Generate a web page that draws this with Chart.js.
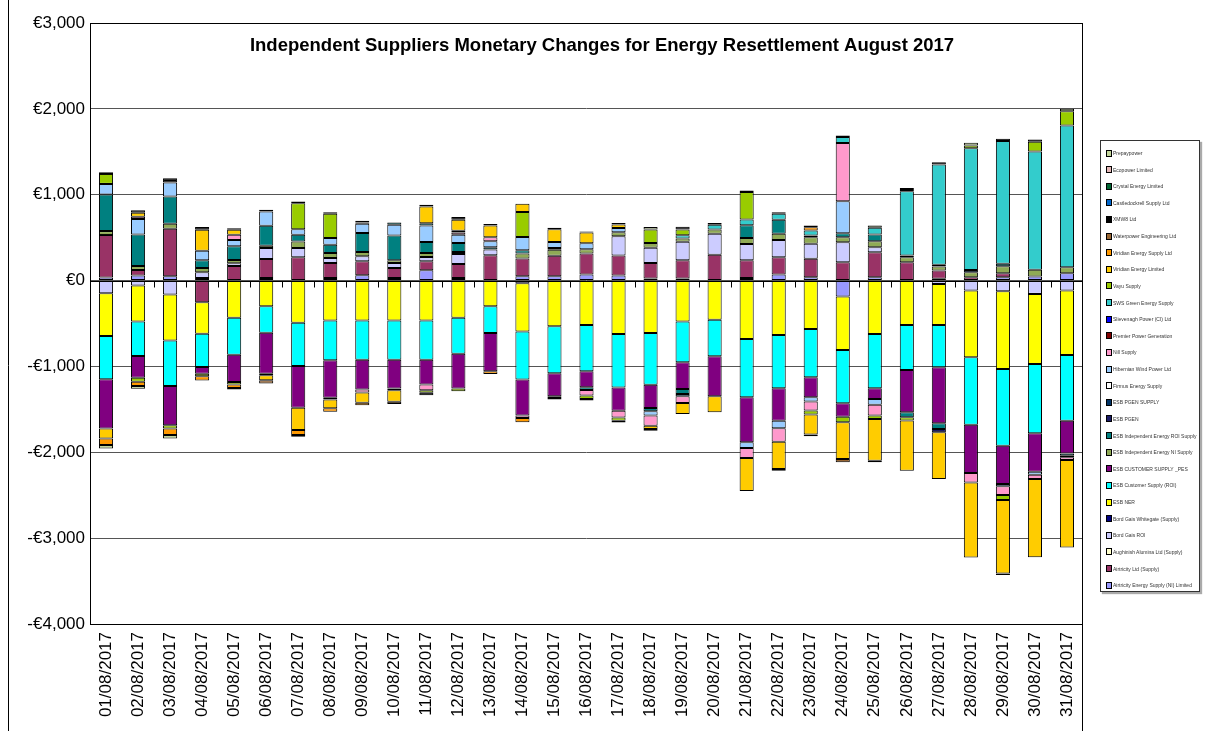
<!DOCTYPE html>
<html>
<head>
<meta charset="utf-8">
<script src="https://cdn.jsdelivr.net/npm/chart.js@4"></script>
<style>
  body { margin: 0; background: #fff; }
  #wrap { position: relative; width: 1205px; height: 731px; }
  #legend {
    position: absolute; left: 1100px; top: 140px; width: 98px; height: 450px;
    border: 1.5px solid #333; box-shadow: 2px 2px 1px #aaa; background: #fff;
    font-family: "Liberation Sans", Arial, sans-serif; font-size: 5px; color: #333;
  }
  .item { position: absolute; left: 5px; height: 8px; display: flex; align-items: center; white-space: nowrap; }
  .sw { width: 4px; height: 5px; border: 1px solid #000; margin-right: 1px; }
</style>
</head>
<body>
<div id="wrap">
  <canvas id="chart" width="1205" height="731"></canvas>
  <div id="legend"></div>
</div>
<script>
// Categories
const days = ["01/08/2017", "02/08/2017", "03/08/2017", "04/08/2017", "05/08/2017", "06/08/2017",
  "07/08/2017", "08/08/2017", "09/08/2017", "10/08/2017", "11/08/2017", "12/08/2017", "13/08/2017",
  "14/08/2017", "15/08/2017", "16/08/2017", "17/08/2017", "18/08/2017", "19/08/2017", "20/08/2017",
  "21/08/2017", "22/08/2017", "23/08/2017", "24/08/2017", "25/08/2017", "26/08/2017", "27/08/2017",
  "28/08/2017", "29/08/2017", "30/08/2017", "31/08/2017"];
const yTicks = [3000, 2000, 1000, 0, -1000, -2000, -3000, -4000];
const title = "Independent Suppliers Monetary Changes for Energy Resettlement August 2017";

// Series values (EUR), one per day
const airtricityNI = [35, 58, 50, 31, 0, 31, 0, 31, 62, 31, 120, 31, 0, 50, 50, 70, 58, 23, 23, 0, 31, 70, 39, -186, 39, 0, 20, 0, 39, 47, 85];
const airtricityLtd = [495, 66, 553, -252, 170, 221, 271, 174, 163, 116, 104, 163, 295, 206, 240, 245, 233, 183, 214, 300, 206, 202, 214, 214, 291, 214, 97, 39, 47, 0, 0];
const aughinish = [0, 0, 0, 0, 0, 0, 0, 0, 0, 0, 0, 0, 0, 0, 0, 0, 0, 0, 0, 0, 0, 0, 0, 0, 0, 0, 0, 0, 0, 0, 0];
const bordGaisROI = [-147, -58, -163, 66, 31, 128, 108, 58, 58, 58, 50, 116, 66, -31, 0, 0, 225, 175, 214, 245, 190, 202, 175, 233, 58, 0, -39, -117, -124, -155, -117];
const bordGaisWhitegate = [0, 0, 0, 0, 0, 0, 0, 0, 0, 0, 0, 0, 0, 0, 0, 0, 0, 0, 0, 0, 0, 0, 0, 0, 0, 0, 0, 0, 0, 0, 0];
const esbNER = [-499, -418, -534, -368, -433, -298, -491, -464, -464, -464, -464, -433, -299, -563, -532, -517, -622, -610, -478, -455, -680, -633, -563, -622, -622, -517, -478, -777, -905, -816, -750];
const esbCustomerROI = [-503, -402, -530, -387, -430, -310, -503, -464, -457, -457, -457, -418, -311, -559, -548, -540, -622, -602, -474, -427, -680, -622, -563, -622, -633, -524, -493, -785, -894, -808, -765];
const esbCustomerPES = [-573, -255, -457, -77, -317, -476, -488, -437, -348, -337, -290, -406, -447, -420, -268, -186, -272, -272, -311, -466, -524, -377, -233, -155, -124, -493, -653, -563, -447, -447, -381];
const esbIndependentNI = [46, 46, 58, 50, 39, 27, 77, 58, 50, 31, 46, 23, 0, 58, 70, 50, 47, 58, 39, 50, 70, 70, 78, 58, 70, 58, 47, 58, 82, 78, 70];
const esbIndependentROI = [426, 368, 317, 89, 159, 232, 77, 97, 221, 290, 128, 104, 27, 39, 19, -31, 0, -39, -58, 0, 148, 163, 19, 47, 78, -58, -66, 0, 27, 0, -27];
const esbPgen = [0, 0, 0, 0, 0, -19, 0, -19, 0, 0, 0, 0, 0, 0, 0, 0, 0, 0, 0, 0, 0, 0, 0, 0, 0, 0, -39, 0, 0, 0, 0];
const esbPgenSupply = [0, 0, 0, 0, 0, 0, 0, 0, 0, 0, 0, 0, 0, 0, 0, 0, 0, 0, 0, 0, 0, 0, 0, 0, 0, 19, 19, 27, 0, 0, 0];
const firmus = [0, 0, 0, 0, 0, 0, 0, 0, 0, 0, 0, 0, 0, 0, 0, 0, 0, 0, 0, 0, 0, 0, 0, 0, 0, 0, 0, 0, 0, 0, 0];
const hibernian = [124, 178, 163, 112, 74, 166, 66, 77, 108, 124, 194, 97, 70, 155, 70, 70, 50, -50, -27, 0, -66, -89, -50, 373, -66, 0, 0, 0, -27, -35, -19];
const nill = [0, 27, 0, 0, 62, 0, 0, 0, -35, 0, -66, 27, 47, -27, -19, -66, -78, -117, -78, 0, -117, -155, -105, 676, -128, 0, 0, -109, -101, -50, -31];
const premier = [0, 0, 0, 0, 0, 0, 0, 0, 0, 0, 0, 0, 0, 0, 0, 0, 0, 0, 0, 0, 0, 0, 0, 0, 0, 0, 0, 0, 0, 0, 0];
const slievenagh = [0, 0, 0, 0, 0, 0, 0, 0, 0, 0, 0, 0, 0, 0, 0, 0, 0, 0, 0, 0, 0, 0, 0, 0, 0, 0, 0, 0, 0, 0, 0];
const swsGreen = [0, 0, 0, 0, 0, 0, 0, 0, 0, 27, 27, 19, 0, 0, 0, 0, 0, 0, 39, 54, 66, 70, 58, 70, 78, 750, 1169, 1418, 1430, 1379, 1651];
const vayu = [116, -46, -39, -31, -31, 0, 302, 283, 0, -19, -31, -31, 0, 291, 0, -39, -39, 155, 66, 0, 322, 0, -47, -66, -39, -39, 0, 31, -58, 113, 167];
const viridianLtd = [-116, 46, 0, 244, 58, -58, -259, -104, -120, -135, 194, 128, 136, 97, 148, 125, 39, -39, -128, -186, -383, -319, -233, -427, -486, -583, -544, -874, -855, -913, -1018];
const viridianSupply = [-77, -50, -77, -50, -39, 0, -58, -39, -27, 0, 0, 0, -31, -50, 0, 0, 0, 0, 0, 0, 0, 0, 39, 0, 0, 0, 0, 0, 0, 0, 0];
const waterpower = [0, 0, 0, 0, 0, -39, 0, 0, 0, -27, 0, 0, 0, 0, 0, 0, 0, 0, 0, 0, 0, 0, 0, -39, 0, 0, 0, 0, 0, 0, 0];
const xmw8 = [19, 31, 50, 31, 15, 0, 0, 19, 15, 0, -27, 31, 0, 0, -19, -19, -19, -19, 31, 23, 0, -19, -19, 0, -19, 15, 27, 0, 27, 27, 0];
const castledockrell = [0, 0, 0, 0, 0, 0, 0, 0, 0, 0, 0, 0, 0, 0, 0, 0, 0, 0, 0, 0, 0, 0, 0, 0, 0, 0, 0, 0, 0, 0, 0];
const crystal = [0, 0, 0, 0, 0, 0, 0, 0, 0, 0, 0, 0, 0, 0, 0, 0, 0, 0, 0, 0, 0, 0, 0, 0, 0, 0, 0, 0, 0, 0, 0];
const ecopower = [0, 0, 0, 0, 0, 20, 19, 0, 0, 0, 0, 0, 0, 0, 0, 0, 0, 0, 0, 0, 16, 0, 0, 0, 0, 23, 0, 0, 0, 0, 0];
const prepaypower = [-40, -30, -40, 0, -20, 0, -19, 0, 20, 0, 19, 0, 19, 0, 19, 12, 19, 31, 0, 0, 0, 19, 19, 19, 27, 0, 0, 31, -19, 0, 27];

// Stacking order (first = nearest the axis)
const seriesNames = ["Airtricity Energy Supply (NI) Limited", "Airtricity Ltd (Supply)",
  "Aughinish Alumina Ltd (Supply)", "Bord Gais ROI", "Bord Gais Whitegate (Supply)", "ESB NER",
  "ESB Customer Supply (ROI)", "ESB CUSTOMER SUPPLY _PES", "ESB Independent Energy NI Supply",
  "ESB Independent Energy ROI Supply", "ESB PGEN", "ESB PGEN SUPPLY", "Firmus Energy Supply",
  "Hibernian Wind Power Ltd", "Nill Supply", "Premier Power Generation", "Slievenagh Power (CI) Ltd",
  "SWS Green Energy Supply", "Vayu Supply", "Viridian Energy Limited", "Viridian Energy Supply Ltd",
  "Waterpower Engineering Ltd", "XMW8 Ltd", "Castledockrell Supply Ltd", "Crystal Energy Limited",
  "Ecopower Limited", "Prepaypower"];
const seriesColors = ["#9999FF", "#993366", "#FFFFCC", "#CCCCFF", "#000080", "#FFFF00", "#00FFFF", "#800080",
  "#8FAA55", "#008080", "#1A1A66", "#003366", "#FFFFFF", "#99CCFF", "#FF99CC", "#800000", "#0000FF",
  "#33CCCC", "#99CC00", "#FFCC00", "#FF9900", "#996633", "#000000", "#0066CC", "#006633", "#E6B9B8", "#C3D69B"];
const seriesValues = [airtricityNI, airtricityLtd, aughinish, bordGaisROI, bordGaisWhitegate, esbNER,
  esbCustomerROI, esbCustomerPES, esbIndependentNI, esbIndependentROI, esbPgen, esbPgenSupply, firmus,
  hibernian, nill, premier, slievenagh, swsGreen, vayu, viridianLtd, viridianSupply, waterpower, xmw8,
  castledockrell, crystal, ecopower, prepaypower];

const datasets = seriesNames.map((name, i) => ({
  label: name,
  data: seriesValues[i].map((v) => (v === 0 ? null : v)),
  backgroundColor: seriesColors[i],
}));

// Legend (listed top of stack first, like Excel)
const legendEl = document.getElementById("legend");
seriesNames.slice().reverse().forEach((name, k) => {
  const i = seriesNames.length - 1 - k;
  const el = document.createElement("div");
  el.className = "item";
  el.style.top = (8 + k * 16.62) + "px";
  el.innerHTML = `<span class="sw" style="background:${seriesColors[i]}"></span><span>${name}</span>`;
  legendEl.appendChild(el);
});

const euro = (v) => (v < 0 ? "-€" : "€") + Math.abs(v).toLocaleString("en-US");

// Frame, zero axis with ticks, title
const framePlugin = {
  id: "frame",
  beforeDatasetsDraw(chart) {
    const { ctx, chartArea: a, scales: { y } } = chart;
    ctx.save();
    ctx.strokeStyle = "#000";
    ctx.lineWidth = 1;
    ctx.strokeRect(a.left + 0.5, a.top + 0.5, a.right - a.left - 1, a.bottom - a.top);
    const y0 = Math.round(y.getPixelForValue(0)) + 0.5;
    const step = (a.right - a.left) / days.length;
    ctx.beginPath();
    ctx.moveTo(a.left, y0);
    ctx.lineTo(a.right, y0);
    for (let i = 1; i < days.length; i++) {
      const px = Math.round(a.left + i * step) + 0.5;
      ctx.moveTo(px, y0);
      ctx.lineTo(px, y0 + 6);
    }
    ctx.stroke();
    ctx.beginPath();
    ctx.moveTo(8.5, 0);
    ctx.lineTo(8.5, chart.height);
    ctx.moveTo(a.right - 0.5, a.bottom);
    ctx.lineTo(a.right - 0.5, chart.height);
    ctx.stroke();
    ctx.restore();
  },
  afterDraw(chart) {
    const { ctx } = chart;
    ctx.save();
    ctx.font = 'bold 18.5px "Liberation Sans", Arial, sans-serif';
    ctx.fillStyle = "#000";
    ctx.textAlign = "center";
    ctx.textBaseline = "middle";
    ctx.fillText(title, 602, 46);
    ctx.restore();
  },
};

new Chart(document.getElementById("chart"), {
  type: "bar",
  data: { labels: days, datasets },
  options: {
    responsive: false,
    animation: false,
    layout: { padding: { top: 23, right: 122, left: 0, bottom: 0 } },
    plugins: { legend: { display: false }, tooltip: { enabled: false } },
    datasets: {
      bar: {
        barPercentage: 0.44,
        categoryPercentage: 1,
        borderWidth: 1,
        borderColor: "#000",
        borderSkipped: false,
      },
    },
    scales: {
      x: {
        stacked: true,
        grid: { display: false, drawTicks: false },
        border: { display: false },
        ticks: {
          autoSkip: false,
          minRotation: 90,
          maxRotation: 90,
          padding: 8,
          color: "#000",
          font: { family: '"Liberation Sans", Arial, sans-serif', size: 17 },
        },
        afterFit: (s) => { s.height = 107; },
      },
      y: {
        stacked: true,
        min: -4000,
        max: 3000,
        grid: { color: "#555", drawTicks: false },
        border: { display: false },
        afterBuildTicks: (s) => { s.ticks = yTicks.map((v) => ({ value: v })); },
        ticks: {
          padding: 5,
          color: "#000",
          font: { family: '"Liberation Sans", Arial, sans-serif', size: 17 },
          callback: (v) => euro(v),
        },
        afterFit: (s) => { s.width = 90; },
      },
    },
  },
  plugins: [framePlugin],
});
</script>
</body>
</html>
